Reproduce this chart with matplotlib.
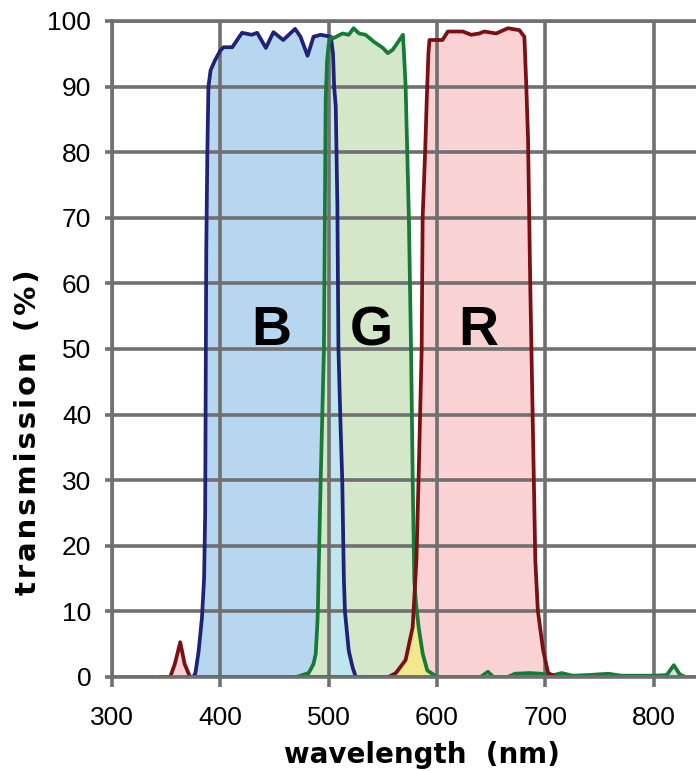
import matplotlib
matplotlib.use('Agg')
import matplotlib.pyplot as plt
import numpy as np

# transmission curves: wavelength (nm), transmission (%)
wl_blue = [370, 375, 377, 380, 383, 385, 386, 386.5, 387, 388, 389, 391, 395, 400, 403,
           411, 420, 429, 434, 442, 449, 458, 469, 474, 480.5, 486, 492.5, 502, 504,
           505, 506.5, 508, 509, 511, 512.5, 514, 515, 518.5, 522, 525, 530]
tr_blue = [0, 0, 0.6, 4, 9, 15, 25, 45, 65, 80, 90, 92.5, 94, 95.5, 96,
           96, 98.2, 97.9, 98.2, 95.9, 98.3, 97.1, 98.8, 97.6, 94.7, 97.6, 97.9, 97.6, 95,
           90, 87, 72, 50, 38, 30, 15, 10, 4, 1.5, 0, 0]

wl_green = [470, 481.5, 486, 488, 489.5, 490, 490.7, 492.6, 495.6, 497.2, 498.5, 500, 502,
            504.6, 512.7, 518.5, 523, 528, 534, 542, 550, 554.5, 559, 564, 568.5, 569.5,
            571, 574, 576, 577.5, 579, 580.5, 583, 586.7, 591, 600, 640, 647, 652, 665,
            672, 685, 696, 705, 715, 725, 740, 758, 770, 800, 812, 818.5, 824, 829]
tr_green = [0, 0.6, 2, 3.5, 8, 10, 16, 30, 50, 88, 94, 96.5, 97.5,
            97.4, 98.1, 97.9, 98.9, 98.1, 97.9, 96.8, 95.9, 95.1, 95.6, 96.8, 97.9, 95,
            90, 70, 50, 30.5, 14.8, 11.3, 7.6, 3.6, 1, 0, 0, 0.8, 0, 0,
            0.5, 0.6, 0.5, 0.2, 0.6, 0.2, 0.3, 0.5, 0.2, 0.2, 0.3, 1.8, 0.4, 0]

wl_red = [345, 353.7, 358, 363, 367, 372, 380, 555, 562, 571, 577.5, 580, 581, 583, 585.8,
          586.7, 589, 590.5, 592, 593, 605, 610, 623.7, 631.5, 639, 643.5, 654.6, 665.4,
          676, 680.6, 682.4, 684, 686, 688, 690.7, 693, 697.8, 702.5, 710]
tr_red = [0, 0, 2, 5.3, 2, 0, 0, 0, 0.6, 2.6, 7.6, 15, 18, 30.5, 50,
          70, 80, 88, 95, 97.1, 97.1, 98.4, 98.4, 97.9, 98.1, 98.4, 98.1, 98.9,
          98.6, 97.6, 90, 81.9, 60, 42, 17.8, 10.2, 4.2, 0.6, 0]

band_names = ['B', 'G', 'R']
band_pos = [447, 539.5, 638]

grey = '#707070'

fig = plt.figure(figsize=(6.96, 7.71), dpi=100)
ax = fig.add_axes([112/696, 94/771, 584/696, 656/771])

# coloured areas under the curves
ax.fill_between(wl_blue, tr_blue, color='#b7d7f1', lw=0, zorder=1)
ax.fill_between(wl_green, tr_green, color='#d4e8c9', lw=0, zorder=1)
ax.fill_between(wl_red, tr_red, color='#fad2d3', lw=0, zorder=1)

# where two filters overlap the colour mixes
wl = np.arange(300, 840, 0.25)
b = np.interp(wl, wl_blue, tr_blue, left=0, right=0)
g = np.interp(wl, wl_green, tr_green, left=0, right=0)
r = np.interp(wl, wl_red, tr_red, left=0, right=0)
ax.fill_between(wl, np.minimum(b, g), where=wl >= 500, color='#bfe6ef', lw=0, zorder=1.1)
ax.fill_between(wl, np.minimum(g, r), color='#f2e98e', lw=0, zorder=1.1)

ax.plot(wl_blue, tr_blue, color='#1f2378', lw=2.7, zorder=3, solid_joinstyle='round')
ax.plot(wl_green, tr_green, color='#177a37', lw=2.7, zorder=3, solid_joinstyle='round')
ax.plot(wl_red, tr_red, color='#7a1014', lw=2.7, zorder=3, solid_joinstyle='round')

for name, x in zip(band_names, band_pos):
    ax.text(x, 50.6, name, ha='center', va='baseline', fontsize=40,
            fontweight='bold', family='Liberation Sans', zorder=5)

ax.set_xlim(300, 839)
ax.set_ylim(0, 100)
ax.set_xticks(np.arange(300, 801, 100))
ax.set_yticks(np.arange(0, 101, 10))
ax.set_axisbelow(False)
ax.grid(True, color=grey, lw=2.6)
for side in ['left', 'bottom', 'top']:
    ax.spines[side].set_color(grey)
    ax.spines[side].set_linewidth(2.6)
    ax.spines[side].set_zorder(3.5)   # hides the curves where they sit on 0 %
ax.spines['right'].set_visible(False)
ax.tick_params(axis='x', direction='out', length=7, width=2.6, color=grey, pad=14)
ax.tick_params(axis='y', direction='out', length=5, width=2.6, color=grey, pad=10)
for lab in ax.get_xticklabels() + ax.get_yticklabels():
    lab.set_family('Liberation Sans')
    lab.set_fontsize(19)

fig.text(422/696, 8/771, 'wavelength  (nm)', ha='center', va='baseline',
         fontsize=20, fontweight='bold')
ylab = '\u200a'.join('transmission') + '  ' + '\u200a'.join('(%)')
fig.text(28/696, 339/771, ylab, ha='center', va='center',
         rotation=90, fontsize=21, fontweight='bold')

fig.savefig('out.png', dpi=100)
